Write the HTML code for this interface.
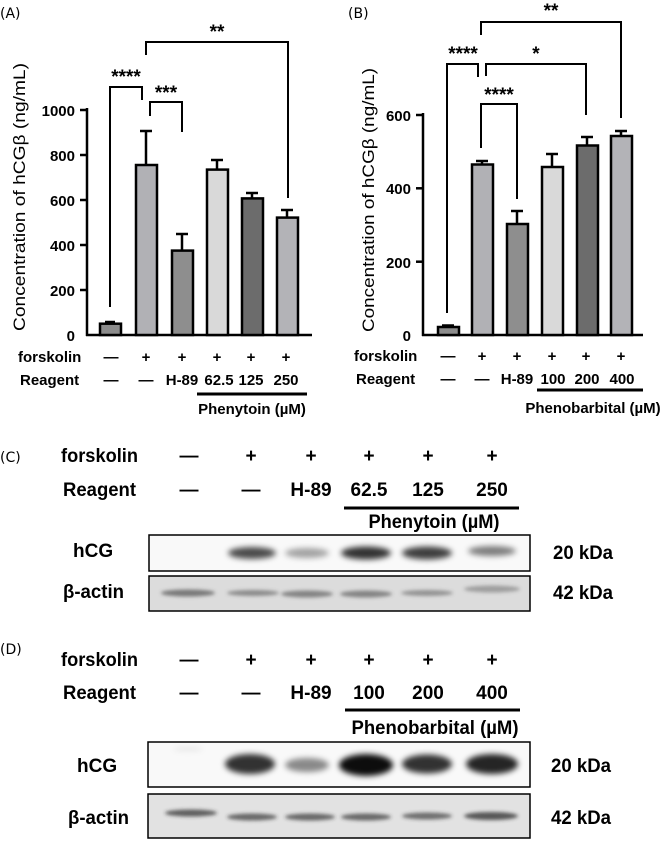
<!DOCTYPE html>
<html><head><meta charset="utf-8"><style>
html,body{margin:0;padding:0;background:#fff;}
svg{display:block;}
.t{font-family:"Liberation Sans",Arial,sans-serif;font-weight:bold;font-size:15px;fill:#000;}
.n{font-family:"Liberation Sans Narrow","Liberation Sans",Arial,sans-serif;font-weight:bold;font-size:19px;fill:#000;}
.p{font-family:"DejaVu Sans","Liberation Sans",sans-serif;font-size:14px;fill:#000;}
</style></head><body>
<svg width="670" height="842" viewBox="0 0 670 842" xmlns="http://www.w3.org/2000/svg">
<defs>
<filter id="b" x="-50%" y="-100%" width="200%" height="300%"><feGaussianBlur stdDeviation="3"/></filter>
<filter id="b2" x="-50%" y="-100%" width="200%" height="300%"><feGaussianBlur stdDeviation="1.8"/></filter>
</defs>

<!-- Panel A -->
<text class="p" x="0" y="18">(A)</text>
<g stroke="#000" stroke-width="2.5" fill="none">
<line x1="87" y1="108" x2="87" y2="336"/>
<line x1="86" y1="335" x2="312" y2="335"/>
<line x1="80" y1="110" x2="87" y2="110"/><line x1="80" y1="155" x2="87" y2="155"/><line x1="80" y1="200" x2="87" y2="200"/><line x1="80" y1="245" x2="87" y2="245"/><line x1="80" y1="290" x2="87" y2="290"/>
</g>
<g class="t" text-anchor="end">
<text x="75" y="116">1000</text><text x="75" y="161">800</text><text x="75" y="206">600</text><text x="75" y="251">400</text><text x="75" y="296">200</text><text x="75" y="341">0</text>
</g>
<text class="t" style="font-weight:normal;font-size:17px" transform="translate(25,197) rotate(-90)" text-anchor="middle" textLength="268" lengthAdjust="spacingAndGlyphs">Concentration of hCGβ (ng/mL)</text>
<g stroke="#000" stroke-width="2.5">
<line x1="110" y1="323.7" x2="110" y2="322"/><line x1="105" y1="322" x2="115" y2="322"/>
<line x1="146" y1="165" x2="146" y2="131"/><line x1="140" y1="131" x2="152" y2="131"/>
<line x1="182" y1="250" x2="182" y2="234"/><line x1="176" y1="234" x2="188" y2="234"/>
<line x1="217" y1="170" x2="217" y2="160"/><line x1="211" y1="160" x2="223" y2="160"/>
<line x1="252" y1="198" x2="252" y2="193"/><line x1="246" y1="193" x2="258" y2="193"/>
<line x1="287" y1="218" x2="287" y2="210"/><line x1="281" y1="210" x2="293" y2="210"/>
<rect x="100" y="323.7" width="21" height="11.3" fill="#8c8c8c"/>
<rect x="136" y="165" width="21" height="170" fill="#b1b1b5"/>
<rect x="172" y="250.6" width="21" height="84.4" fill="#8e8e8e"/>
<rect x="207" y="169.6" width="21" height="165.4" fill="#d9d9d9"/>
<rect x="242" y="198.4" width="21" height="136.6" fill="#6c6c6c"/>
<rect x="277" y="217.6" width="21" height="117.4" fill="#b3b3b7"/>
</g>
<g stroke="#000" stroke-width="2" fill="none">
<polyline points="110,307 110,87 142,87 142,100"/>
<polyline points="150,116 150,102 182,102 182,132"/>
<polyline points="146,55 146,42 288,42 288,198"/>
</g>
<g class="t" text-anchor="middle" style="font-size:19px">
<text x="126" y="83">****</text><text x="166" y="99">***</text><text x="217" y="38">**</text>
</g>
<g class="t">
<text x="18" y="362">forskolin</text><text x="20" y="385">Reagent</text>
</g>
<g class="t" text-anchor="middle">
<text x="111" y="362">—</text><text x="146" y="362">+</text><text x="182" y="362">+</text><text x="217" y="362">+</text><text x="251" y="362">+</text><text x="286" y="362">+</text>
<text x="111" y="385">—</text><text x="146" y="385">—</text><text x="182" y="385">H-89</text><text x="219" y="385">62.5</text><text x="251" y="385">125</text><text x="286" y="385">250</text>
<text x="252" y="414">Phenytoin (µM)</text>
</g>
<line x1="197" y1="394" x2="307" y2="394" stroke="#000" stroke-width="3"/>

<!-- Panel B -->
<text class="p" x="348" y="18">(B)</text>
<g stroke="#000" stroke-width="2.5" fill="none">
<line x1="423" y1="113" x2="423" y2="336"/>
<line x1="422" y1="335" x2="643" y2="335"/>
<line x1="416" y1="115" x2="423" y2="115"/><line x1="416" y1="188.3" x2="423" y2="188.3"/><line x1="416" y1="261.7" x2="423" y2="261.7"/>
</g>
<g class="t" text-anchor="end">
<text x="411" y="121">600</text><text x="411" y="194">400</text><text x="411" y="268">200</text><text x="411" y="341">0</text>
</g>
<text class="t" style="font-weight:normal;font-size:17px" transform="translate(374,200) rotate(-90)" text-anchor="middle" textLength="264" lengthAdjust="spacingAndGlyphs">Concentration of hCGβ (ng/mL)</text>
<g stroke="#000" stroke-width="2.5">
<line x1="448" y1="327" x2="448" y2="325.5"/><line x1="442" y1="325.5" x2="454" y2="325.5"/>
<line x1="482" y1="165" x2="482" y2="161"/><line x1="476" y1="161" x2="488" y2="161"/>
<line x1="517" y1="224" x2="517" y2="211"/><line x1="511" y1="211" x2="523" y2="211"/>
<line x1="552" y1="167" x2="552" y2="154"/><line x1="546" y1="154" x2="558" y2="154"/>
<line x1="587" y1="146" x2="587" y2="137"/><line x1="581" y1="137" x2="593" y2="137"/>
<line x1="621" y1="136" x2="621" y2="131"/><line x1="615" y1="131" x2="627" y2="131"/>
<rect x="438" y="327" width="21" height="8" fill="#8c8c8c"/>
<rect x="472" y="164.5" width="21" height="170.5" fill="#b1b1b5"/>
<rect x="507" y="224" width="21" height="111" fill="#8e8e8e"/>
<rect x="542" y="167" width="21" height="168" fill="#d9d9d9"/>
<rect x="577" y="145.5" width="21" height="189.5" fill="#6c6c6c"/>
<rect x="611" y="136" width="21" height="199" fill="#b3b3b7"/>
</g>
<g stroke="#000" stroke-width="2" fill="none">
<polyline points="447,313 447,64 478,64 478,77"/>
<polyline points="486,76 486,64 586,64 586,115"/>
<polyline points="481,35 481,22 621,22 621,118"/>
<polyline points="481,148 481,104 517,104 517,199"/>
</g>
<g class="t" text-anchor="middle" style="font-size:19px">
<text x="463" y="60">****</text><text x="536" y="60">*</text><text x="551" y="17">**</text><text x="499" y="101">****</text>
</g>
<g class="t">
<text x="354" y="361">forskolin</text><text x="356" y="384">Reagent</text>
</g>
<g class="t" text-anchor="middle">
<text x="448" y="361">—</text><text x="482" y="361">+</text><text x="517" y="361">+</text><text x="552" y="361">+</text><text x="586" y="361">+</text><text x="621" y="361">+</text>
<text x="448" y="384">—</text><text x="482" y="384">—</text><text x="517" y="384">H-89</text><text x="553" y="384">100</text><text x="587" y="384">200</text><text x="622" y="384">400</text>
<text x="593" y="413">Phenobarbital (µM)</text>
</g>
<line x1="537" y1="390" x2="643" y2="390" stroke="#000" stroke-width="3"/>

<!-- Panel C -->
<text class="p" x="0" y="462">(C)</text>
<g class="n">
<text x="61" y="462" textLength="77" lengthAdjust="spacingAndGlyphs">forskolin</text>
<text x="63" y="496" textLength="73" lengthAdjust="spacingAndGlyphs">Reagent</text>
<text x="73" y="557">hCG</text>
<text x="63" y="598" textLength="61" lengthAdjust="spacingAndGlyphs">β-actin</text>
<text x="553" y="559" textLength="60" lengthAdjust="spacingAndGlyphs">20 kDa</text>
<text x="553" y="599" textLength="60" lengthAdjust="spacingAndGlyphs">42 kDa</text>
</g>
<g class="n" text-anchor="middle">
<text x="189" y="462">—</text><text x="251" y="462">+</text><text x="311" y="462">+</text><text x="369" y="462">+</text><text x="428" y="462">+</text><text x="492" y="462">+</text>
<text x="189" y="496">—</text><text x="251" y="496">—</text><text x="311" y="496">H-89</text><text x="369" y="496">62.5</text><text x="428" y="496">125</text><text x="492" y="496">250</text>
<text x="434" y="528" textLength="131" lengthAdjust="spacingAndGlyphs">Phenytoin (µM)</text>
</g>
<line x1="344" y1="508" x2="519" y2="508" stroke="#000" stroke-width="3"/>
<rect x="149" y="535" width="381" height="36" fill="#f9f9f9" stroke="#000" stroke-width="1.5"/>
<g filter="url(#b)">
<ellipse cx="252" cy="553" rx="24" ry="6" fill="#000" opacity="0.7"/>
<ellipse cx="307" cy="553" rx="22" ry="5" fill="#000" opacity="0.35"/>
<ellipse cx="366" cy="553" rx="25" ry="6.5" fill="#000" opacity="0.8"/>
<ellipse cx="427" cy="553" rx="25" ry="6.5" fill="#000" opacity="0.75"/>
<ellipse cx="492" cy="551" rx="24" ry="5" fill="#000" opacity="0.5"/>
</g>
<rect x="149" y="576" width="381" height="35" fill="#dcdcdc" stroke="#000" stroke-width="1.5"/>
<g filter="url(#b2)">
<ellipse cx="188" cy="593" rx="27" ry="3.5" fill="#555" opacity="0.75"/>
<ellipse cx="253" cy="593" rx="26" ry="3" fill="#555" opacity="0.6"/>
<ellipse cx="307" cy="594" rx="26" ry="3.5" fill="#555" opacity="0.65"/>
<ellipse cx="366" cy="594" rx="26" ry="3.5" fill="#555" opacity="0.65"/>
<ellipse cx="427" cy="593" rx="26" ry="3" fill="#555" opacity="0.55"/>
<ellipse cx="492" cy="589" rx="28" ry="3.5" fill="#555" opacity="0.45"/>
</g>

<!-- Panel D -->
<text class="p" x="0" y="654">(D)</text>
<g class="n">
<text x="61" y="666" textLength="77" lengthAdjust="spacingAndGlyphs">forskolin</text>
<text x="63" y="699" textLength="73" lengthAdjust="spacingAndGlyphs">Reagent</text>
<text x="77" y="772">hCG</text>
<text x="68" y="824" textLength="61" lengthAdjust="spacingAndGlyphs">β-actin</text>
<text x="551" y="772" textLength="60" lengthAdjust="spacingAndGlyphs">20 kDa</text>
<text x="551" y="824" textLength="60" lengthAdjust="spacingAndGlyphs">42 kDa</text>
</g>
<g class="n" text-anchor="middle">
<text x="189" y="666">—</text><text x="251" y="666">+</text><text x="311" y="666">+</text><text x="369" y="666">+</text><text x="428" y="666">+</text><text x="492" y="666">+</text>
<text x="189" y="699">—</text><text x="251" y="699">—</text><text x="311" y="699">H-89</text><text x="369" y="699">100</text><text x="428" y="699">200</text><text x="492" y="699">400</text>
<text x="435" y="734" textLength="167" lengthAdjust="spacingAndGlyphs">Phenobarbital (µM)</text>
</g>
<line x1="345" y1="710" x2="520" y2="710" stroke="#000" stroke-width="3"/>
<rect x="148" y="742" width="382" height="45" fill="#f9f9f9" stroke="#000" stroke-width="1.5"/>
<g filter="url(#b)">
<ellipse cx="188" cy="749" rx="15" ry="2" fill="#000" opacity="0.08"/>
<ellipse cx="250" cy="764" rx="25" ry="10" fill="#000" opacity="0.8"/>
<ellipse cx="307" cy="765" rx="22" ry="7" fill="#000" opacity="0.45"/>
<ellipse cx="366" cy="765" rx="27" ry="11" fill="#000" opacity="0.95"/>
<ellipse cx="427" cy="764" rx="25" ry="9.5" fill="#000" opacity="0.8"/>
<ellipse cx="492" cy="764" rx="26" ry="10" fill="#000" opacity="0.85"/>
</g>
<rect x="148" y="794" width="382" height="44" fill="#e2e2e2" stroke="#000" stroke-width="1.5"/>
<g filter="url(#b2)">
<ellipse cx="191" cy="813" rx="26" ry="3.5" fill="#333" opacity="0.75"/>
<ellipse cx="252" cy="817" rx="25" ry="3.5" fill="#333" opacity="0.7"/>
<ellipse cx="310" cy="817" rx="25" ry="3.5" fill="#333" opacity="0.7"/>
<ellipse cx="366" cy="817" rx="25" ry="3.5" fill="#333" opacity="0.7"/>
<ellipse cx="427" cy="816" rx="25" ry="3.5" fill="#333" opacity="0.65"/>
<ellipse cx="491" cy="816" rx="27" ry="4" fill="#333" opacity="0.8"/>
</g>
</svg>
</body></html>
